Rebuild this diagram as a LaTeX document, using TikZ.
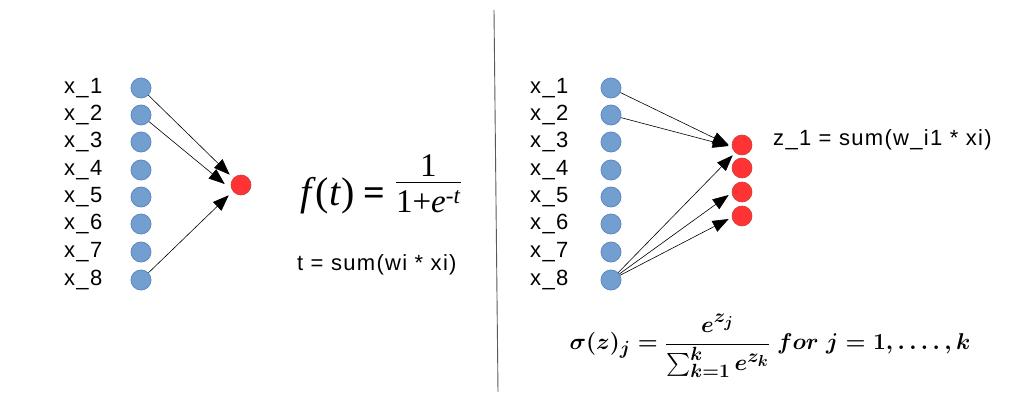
\documentclass[tikz,border=0pt]{standalone}
\usepackage{amsmath}
\usepackage{graphicx}
\usepackage{fontspec}
\setmainfont{Liberation Sans}[LetterSpace=6]
\newfontfamily\timesfam{Liberation Serif}
\usetikzlibrary{arrows.meta}
\definecolor{inblue}{HTML}{729FCF}
\definecolor{inborder}{HTML}{5D89C0}
\definecolor{outred}{HTML}{FF3333}
\definecolor{outborder}{HTML}{C84040}
\newsavebox{\softbox}
\newcommand{\sigmoideq}{{\timesfam\itshape f\/\upshape(\itshape t\/\upshape)}\hspace{9pt}{\fontsize{38}{38}\selectfont\bfseries=}\hspace{11pt}\raisebox{0.28em}{\fontsize{33}{33}\selectfont$\begin{array}{@{}c@{}}\text{\timesfam 1}\\[-4pt]\hline\rule{0pt}{30pt}\text{\timesfam 1+\itshape e\textsuperscript{\upshape-\itshape t}}\end{array}$}}
\tikzset{
  inn/.style={circle, fill=inblue, draw=inborder, line width=0.8pt, minimum size=20pt, inner sep=0pt},
  outn/.style={circle, fill=outred, draw=outborder, line width=0.6pt, minimum size=20pt, inner sep=0pt},
  lab/.style={anchor=west, inner sep=0pt, font=\fontsize{22}{22}\selectfont},
  txt/.style={anchor=west, inner sep=0pt, font=\fontsize{22}{22}\selectfont},
  eqn/.style={inner sep=0pt},
  conn/.style={-{Triangle[length=16pt,width=12pt]}, line width=0.6pt, black},
  divider/.style={line width=0.9pt, black!65},
}
\begin{document}
\begin{tikzpicture}[x=1pt,y=-1pt]
\sbox{\softbox}{\scalebox{0.92}{\fontsize{24.88}{25}\selectfont\boldmath$\displaystyle\sigma(z)_j=\frac{e^{z_j}}{\textstyle\sum_{k=1}^{k} e^{z_k}}\;for\;j=1,\ldots.\,,k$}}%
\useasboundingbox (0,0) rectangle (1021,404);
% left panel
\foreach \i/\yy in {1/88,2/115,3/142,4/170,5/197,6/224,7/252,8/280}{
  \node[lab] (la\i) at (64,\yy) {x\_\i};
  \node[inn] (a\i) at (141,\yy) {};
}
\node[outn] (o) at (241,185) {};
\draw[conn] (a1) -- ([shift={(-4,-3)}]o.north west);
\draw[conn] (a2) -- ([shift={(-6,-1)}]o.west);
\draw[conn] (a8) -- ([shift={(-5,3)}]o.south west);
\node[eqn, anchor=west, font=\timesfam\fontsize{40}{40}\selectfont] (ft) at (300,188) {\sigmoideq};
\node[txt] (tdef) at (297,265) {t = sum(wi * xi)};
% divider
\coordinate (dtop) at (494,10);
\coordinate (dbot) at (498,392);
\draw[divider] (dtop) -- (dbot);
% right panel
\foreach \i/\yy in {1/88,2/115,3/142,4/170,5/197,6/224,7/252,8/280}{
  \node[lab] (lb\i) at (530,\yy) {x\_\i};
  \node[inn] (b\i) at (611,\yy) {};
}
\foreach \j/\yy in {1/145,2/168,3/192,4/216}{
  \node[outn] (r\j) at (742,\yy) {};
}
\draw[conn] (b1) -- ([shift={(-3,0)}]r1.west);
\draw[conn] (b2) -- ([shift={(-3,1)}]r1.west);
\draw[conn] (b8) -- ([shift={(-2,3)}]r1.south west);
\draw[conn] (b8) -- ([shift={(-3,3)}]r3.west);
\draw[conn] (b8) -- ([shift={(-3,3)}]r4.west);
\node[txt] (zdef) at (773,140) {z\_1 = sum(w\_i1 * xi)};
\node[eqn] (softmax) at (770,346) {\usebox{\softbox}};
\end{tikzpicture}
\end{document}
